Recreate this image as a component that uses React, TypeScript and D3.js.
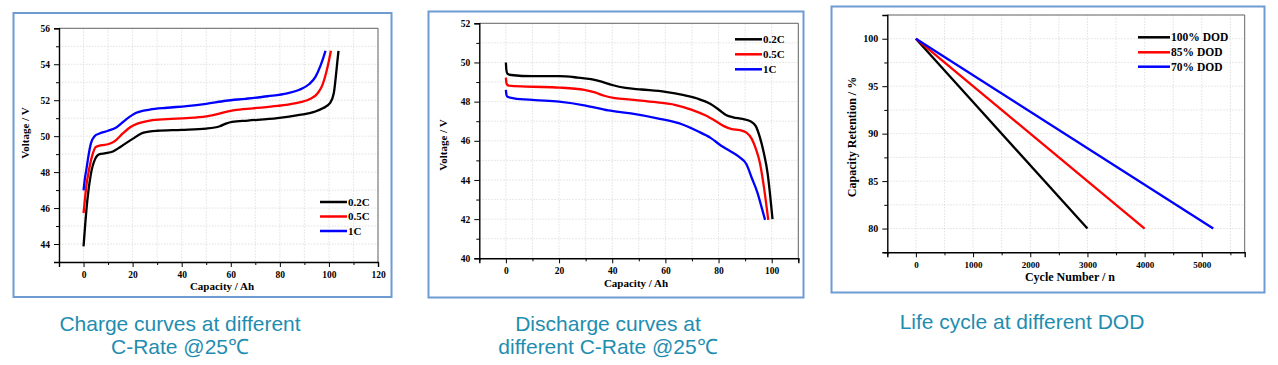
import { useEffect, useRef } from 'react';
import * as d3 from 'd3';

type Pt = [number, number];

// Charge curves (capacity Ah, voltage V)
const charge02: Pt[] = [[0, 43.87], [0.8, 45.3], [1.6, 46.5], [3, 47.9], [4.8, 48.75], [6.5, 49.0], [9, 49.05], [12, 49.15], [15, 49.4], [20, 49.85], [24.5, 50.2], [30, 50.3], [40, 50.35], [50, 50.42], [55.5, 50.55], [58, 50.7], [60.5, 50.8], [67, 50.87], [79, 51.0], [88, 51.18], [94, 51.35], [97.5, 51.55], [100.5, 51.85], [102, 52.4], [102.8, 53.3], [103.4, 54.1], [103.9, 54.75]];
const charge05: Pt[] = [[0, 45.72], [0.5, 46.4], [1.1, 47.2], [2.2, 48.1], [3.5, 48.9], [5, 49.4], [7.5, 49.5], [10, 49.55], [12.5, 49.7], [16, 50.15], [19, 50.5], [22, 50.7], [27, 50.87], [34, 50.95], [42, 51.0], [50, 51.1], [54.5, 51.22], [58.5, 51.37], [61.5, 51.45], [69, 51.55], [79, 51.68], [86, 51.83], [92, 52.05], [95.5, 52.4], [97.5, 52.9], [99, 53.6], [100, 54.2], [100.8, 54.75]];
const charge1: Pt[] = [[0, 46.98], [0.5, 47.6], [1.1, 48.1], [2, 48.9], [3, 49.6], [4.5, 50.0], [6.5, 50.15], [10, 50.3], [13.5, 50.5], [17.5, 50.95], [21.5, 51.3], [27, 51.48], [34, 51.58], [42, 51.67], [50, 51.8], [58, 51.97], [66, 52.08], [75, 52.22], [83, 52.38], [88, 52.58], [92, 52.9], [94.5, 53.3], [96.5, 53.9], [97.8, 54.4], [98.6, 54.75]];

// Discharge curves
const discharge02: Pt[] = [[0, 50.0], [0.2, 49.6], [0.6, 49.42], [2, 49.36], [10, 49.3], [20, 49.3], [27, 49.23], [32, 49.15], [36, 49.02], [40, 48.85], [45, 48.7], [51, 48.62], [60, 48.5], [67, 48.33], [72, 48.16], [77, 47.88], [80.5, 47.55], [83, 47.3], [85.5, 47.2], [89, 47.12], [92, 47.0], [94, 46.75], [95.5, 46.2], [97, 45.4], [98.5, 44.3], [99.5, 43.1], [100.3, 42.0]];
const discharge05: Pt[] = [[0, 49.23], [0.2, 48.95], [0.6, 48.84], [2, 48.8], [10, 48.76], [20, 48.72], [29.5, 48.6], [33.5, 48.47], [37, 48.3], [41, 48.18], [47, 48.1], [57, 47.96], [63.5, 47.84], [70, 47.58], [75, 47.3], [79, 47.0], [82, 46.75], [85, 46.6], [88, 46.55], [90.5, 46.42], [92.5, 46.1], [94, 45.6], [95.5, 44.9], [97, 43.7], [98.7, 41.96]];
const discharge1: Pt[] = [[0, 48.6], [0.2, 48.35], [0.6, 48.25], [3, 48.17], [11, 48.08], [20, 48.0], [30, 47.8], [38.5, 47.55], [47, 47.4], [57, 47.15], [65, 46.9], [72, 46.5], [77, 46.15], [81, 45.75], [84, 45.5], [87.5, 45.2], [90.5, 44.8], [92.5, 44.1], [94.5, 43.4], [96.2, 42.6], [97.5, 41.96]];

const rateLabels = ['0.2C', '0.5C', '1C'];

// Cycle life
const dodLabels = ['100% DOD', '85% DOD', '70% DOD'];
const dodEndCycles = [3000, 4000, 5200];
const retentionStart = 100;
const retentionEnd = 80;

const seriesColors = ['#000000', '#ff0000', '#0000ff'];

const captions = [
  ['Charge curves at different', 'C-Rate @25℃'],
  ['Discharge curves at', 'different C-Rate @25℃'],
  ['Life cycle at different DOD'],
];

interface PanelCfg {
  left: number; right: number; top: number; bottom: number;
  xDomain: [number, number]; yDomain: [number, number];
  xMajor: number[]; xMinor: number[]; yMajor: number[]; yMinor: number[];
  xTickFont: number; yTickFont: number; titleFont: number;
  xTitle: string; yTitle: string;
  xTitlePos: Pt; yTitlePos: Pt;
  series: Pt[][]; curved: boolean;
  legend: string[]; legendX: number; legendYs: number[]; legendFont: number; legendLen: number;
}

const range = (a: number, b: number, s: number) => d3.range(a, b + s / 2, s);

function drawPanel(g: d3.Selection<SVGGElement, unknown, null, undefined>, c: PanelCfg) {
  const x = d3.scaleLinear().domain(c.xDomain).range([c.left, c.right]);
  const y = d3.scaleLinear().domain(c.yDomain).range([c.bottom, c.top]);
  const serif = '"Liberation Serif", "Times New Roman", serif';

  // grid
  const gx = [...c.xMajor, ...c.xMinor];
  const gy = [...c.yMajor, ...c.yMinor];
  g.append('g').selectAll('line').data(gx).join('line')
    .attr('x1', d => x(d)).attr('x2', d => x(d))
    .attr('y1', c.top).attr('y2', c.bottom)
    .attr('stroke', '#d9d9d9').attr('stroke-width', 0.8).attr('stroke-dasharray', '1.5,1.5');
  g.append('g').selectAll('line').data(gy).join('line')
    .attr('y1', d => y(d)).attr('y2', d => y(d))
    .attr('x1', c.left).attr('x2', c.right)
    .attr('stroke', '#d9d9d9').attr('stroke-width', 0.8).attr('stroke-dasharray', '1.5,1.5');

  // top / right frame
  g.append('path')
    .attr('d', `M${c.left},${c.top}H${c.right}V${c.bottom}`)
    .attr('fill', 'none').attr('stroke', '#666').attr('stroke-width', 1);

  // axes
  const xAxis = g.append('g').attr('transform', `translate(0,${c.bottom})`)
    .call(d3.axisBottom(x).tickValues(c.xMajor).tickSize(5).tickPadding(4).tickFormat(d3.format('d')));
  g.append('g').attr('transform', `translate(0,${c.bottom})`)
    .call(d3.axisBottom(x).tickValues(c.xMinor).tickSize(3).tickFormat(() => ''))
    .select('.domain').remove();
  const yAxis = g.append('g').attr('transform', `translate(${c.left},0)`)
    .call(d3.axisLeft(y).tickValues(c.yMajor).tickSize(5).tickPadding(4).tickFormat(d3.format('d')));
  g.append('g').attr('transform', `translate(${c.left},0)`)
    .call(d3.axisLeft(y).tickValues(c.yMinor).tickSize(3).tickFormat(() => ''))
    .select('.domain').remove();
  xAxis.selectAll('text').attr('font-size', c.xTickFont);
  yAxis.selectAll('text').attr('font-size', c.yTickFont);
  [xAxis, yAxis].forEach(a => {
    a.select('.domain').attr('stroke-width', 1.4);
    a.selectAll('text').attr('font-family', serif).attr('font-weight', 'bold').attr('fill', '#000');
  });

  // titles
  g.append('text').attr('x', c.xTitlePos[0]).attr('y', c.xTitlePos[1])
    .attr('text-anchor', 'middle').attr('font-family', serif).attr('font-weight', 'bold')
    .attr('font-size', c.titleFont).text(c.xTitle);
  g.append('text')
    .attr('transform', `translate(${c.yTitlePos[0]},${c.yTitlePos[1]}) rotate(-90)`)
    .attr('text-anchor', 'middle').attr('font-family', serif).attr('font-weight', 'bold')
    .attr('font-size', c.titleFont).text(c.yTitle);

  // series
  const line = d3.line<Pt>().x(d => x(d[0])).y(d => y(d[1]))
    .curve(c.curved ? d3.curveMonotoneX : d3.curveLinear);
  g.append('g').selectAll('path').data(c.series).join('path')
    .attr('d', d => line(d))
    .attr('fill', 'none')
    .attr('stroke', (_, i) => seriesColors[i])
    .attr('stroke-width', 2.3);

  // legend
  const lg = g.append('g').selectAll('g').data(c.legend).join('g')
    .attr('transform', (_, i) => `translate(${c.legendX},${c.legendYs[i]})`);
  lg.append('line').attr('x1', 0).attr('x2', c.legendLen)
    .attr('stroke', (_, i) => seriesColors[i]).attr('stroke-width', 2.5);
  lg.append('text').attr('x', c.legendLen + 1).attr('dy', '0.35em')
    .attr('font-family', serif).attr('font-weight', 'bold').attr('font-size', c.legendFont)
    .text(d => d);
}

export default function App() {
  const ref = useRef<SVGSVGElement | null>(null);

  useEffect(() => {
    if (!ref.current) return;
    const svg = d3.select(ref.current);
    svg.selectAll('*').remove();

    // panel frames
    const frames = [[13.5, 13, 378, 284], [428.5, 11.5, 375, 286], [831.5, 6.5, 433, 286]];
    svg.append('g').selectAll('rect').data(frames).join('rect')
      .attr('x', d => d[0]).attr('y', d => d[1]).attr('width', d => d[2]).attr('height', d => d[3])
      .attr('fill', 'none').attr('stroke', '#6f9bd3').attr('stroke-width', 2);

    drawPanel(svg.append('g'), {
      left: 59, right: 378, top: 28.3, bottom: 262,
      xDomain: [-10, 120], yDomain: [43, 56],
      xMajor: range(0, 120, 20), xMinor: range(-10, 110, 20),
      yMajor: range(44, 56, 2), yMinor: range(43, 55, 2),
      xTickFont: 9.5, yTickFont: 9.5, titleFont: 11,
      xTitle: 'Capacity / Ah', yTitle: 'Voltage / V',
      xTitlePos: [222, 290], yTitlePos: [29, 133],
      series: [charge02, charge05, charge1], curved: true,
      legend: rateLabels, legendX: 320, legendYs: [202, 216.5, 231], legendFont: 11, legendLen: 27,
    });

    drawPanel(svg.append('g'), {
      left: 479.3, right: 798.3, top: 23.3, bottom: 258.3,
      xDomain: [-10, 110], yDomain: [40, 52],
      xMajor: range(0, 100, 20), xMinor: range(-10, 110, 20),
      yMajor: range(40, 52, 2), yMinor: range(41, 51, 2),
      xTickFont: 9.5, yTickFont: 9.5, titleFont: 11,
      xTitle: 'Capacity / Ah', yTitle: 'Voltage / V',
      xTitlePos: [636, 287], yTitlePos: [447, 145],
      series: [discharge02, discharge05, discharge1], curved: true,
      legend: rateLabels, legendX: 735, legendYs: [39.3, 54.3, 69.3], legendFont: 11, legendLen: 27,
    });

    const cycleSeries: Pt[][] = dodEndCycles.map(n => [[0, retentionStart], [n, retentionEnd]]);
    drawPanel(svg.append('g'), {
      left: 887.3, right: 1244.7, top: 15, bottom: 252.3,
      xDomain: [-500, 5750], yDomain: [77.5, 102.5],
      xMajor: range(0, 5000, 1000), xMinor: range(-500, 5500, 1000),
      yMajor: range(80, 100, 5), yMinor: range(77.5, 102.5, 5),
      xTickFont: 9, yTickFont: 10, titleFont: 12,
      xTitle: 'Cycle Number / n', yTitle: 'Capacity Retention / %',
      xTitlePos: [1070, 281], yTitlePos: [856, 137],
      series: cycleSeries, curved: false,
      legend: dodLabels, legendX: 1138, legendYs: [37.3, 52.3, 66.7], legendFont: 11.5, legendLen: 32,
    });

    // captions
    const capX = [180, 608, 1022];
    const capY = [330.5, 330.5, 329];
    captions.forEach((lines, i) => {
      svg.append('text')
        .attr('x', capX[i]).attr('y', capY[i])
        .attr('text-anchor', 'middle')
        .attr('font-family', '"Liberation Sans", Arial, sans-serif')
        .attr('font-size', 21).attr('fill', '#1f8db0')
        .selectAll('tspan').data(lines).join('tspan')
        .attr('x', capX[i]).attr('dy', (_, j) => (j === 0 ? 0 : 23.5))
        .text(d => d);
    });
  }, []);

  return (
    <svg ref={ref} width={1278} height={365}
      style={{ position: 'absolute', left: 0, top: 0, background: '#fff' }} />
  );
}
